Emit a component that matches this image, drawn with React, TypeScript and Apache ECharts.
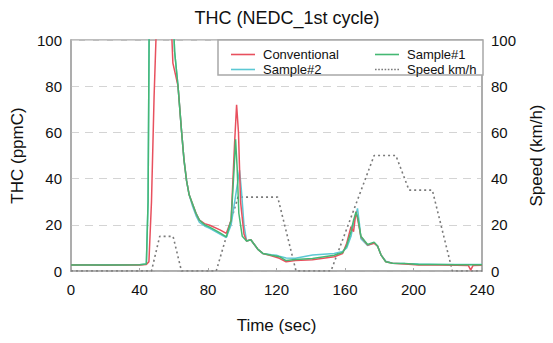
import React, { useEffect, useRef } from "react";
import * as echarts from "echarts";

const title = "THC (NEDC_1st cycle)";

const convT = [0, 10, 20, 30, 40, 44, 45.5, 47, 48.5, 49.6, 50, 57.3, 59.5, 61, 62.5, 64.5, 66, 67.5, 69, 71, 73, 75, 78, 81, 87, 90.7, 93.5, 95.5, 96.7, 97.8, 99, 101, 102.5, 105, 106.5, 109, 112, 117, 121.7, 125.6, 131, 141, 153.7, 158.6, 161, 163.5, 165, 166.4, 167.5, 169.3, 173.2, 177, 179, 181, 183.8, 187.7, 195, 203, 215, 225, 232, 233.4, 234.8, 240];
const convV = [2.6, 2.6, 2.5, 2.6, 2.6, 2.8, 4, 30, 75, 100, 130, 130, 90, 85, 80, 61, 48, 39, 33, 29, 25, 22, 20.5, 19.8, 17.8, 16.3, 22, 55, 72, 60, 30, 16, 13, 13.5, 12, 9.5, 7.6, 6.6, 5.5, 4, 4.5, 4.9, 6.2, 7.6, 12, 19.2, 17, 25.7, 22, 14.8, 11.2, 12, 10.8, 7, 4, 3.4, 3, 2.6, 2.6, 2.5, 2.4, 0.4, 2.4, 2.5];

const s1T = [0, 10, 20, 30, 40, 44, 45, 45.6, 46, 58.6, 60.5, 62.5, 64.5, 66, 67.5, 69, 71, 73, 75, 78, 81, 87, 90.7, 93.5, 95.3, 96.1, 97, 98, 100, 102.5, 105, 106.5, 109, 112, 117, 121.7, 125.6, 131, 141, 153.7, 158.6, 161, 163.5, 165, 166.4, 167.5, 169.3, 173.2, 177, 179, 181, 183.8, 187.7, 195, 203, 215, 225, 233, 240];
const s1V = [2.6, 2.6, 2.6, 2.6, 2.7, 3, 30, 100, 130, 130, 95, 80, 61, 48, 39, 33, 29, 25, 22, 20, 19, 16.5, 14.8, 22, 45, 57, 45, 25, 15, 13, 13.5, 12, 9.5, 7.6, 6.8, 6.2, 4.5, 5, 5.4, 6.8, 8, 11, 17, 22, 25.5, 23, 15, 11.5, 12.5, 10.8, 7, 4, 3.4, 3.2, 2.8, 2.8, 2.7, 2.7, 2.7];

const s2T = [0, 10, 20, 30, 40, 44, 45, 45.6, 46, 58.6, 60.5, 62.5, 64.5, 66, 67.5, 69, 71, 73, 75, 78, 81, 87, 90.7, 93.5, 96, 98.4, 99.5, 101, 102.5, 105, 106.5, 109, 112, 117, 120, 121.7, 125.6, 131, 141, 153.7, 158.6, 161, 163.5, 165.5, 167.3, 168.5, 169.3, 173.2, 177, 179, 181, 183.8, 187.7, 195, 203, 215, 225, 233, 240];
const s2V = [2.7, 2.7, 2.7, 2.7, 2.7, 3, 30, 100, 130, 130, 95, 80, 61, 48, 39, 33, 28, 24, 21, 19.5, 18.5, 16, 14.5, 20, 32, 43.7, 35, 20, 13, 13.5, 12, 9.5, 7.6, 7, 6.8, 6.4, 5.6, 5.5, 6.9, 7.6, 8.5, 10, 15, 22, 27.1, 20, 14, 11, 12.2, 10.8, 7, 4.2, 3.4, 3.2, 3, 2.8, 2.8, 2.8, 2.8];

const speedT = [0, 47, 51.8, 59.6, 64.5, 84.8, 97.5, 120.7, 131.4, 151.8, 177, 189.7, 197.4, 211, 222.7, 240];
const speedV = [0, 0, 15, 15, 0, 0, 32, 32, 0, 0, 50, 50, 35, 35, 0, 0];

const pairs = (t: number[], v: number[]) => t.map((x, i) => [x, v[i]]);

const FONT = "'Liberation Sans', Arial, sans-serif";
const SOLID_ICON = "path://M0,0H30V2H0Z";
const DOT_ICON =
  "path://M0,0H2V2H0Z M4,0H6V2H4Z M8,0H10V2H8Z M12,0H14V2H12Z M16,0H18V2H16Z M20,0H22V2H20Z M24,0H26V2H24Z M28,0H30V2H28Z";

export default function App() {
  const ref = useRef<HTMLDivElement>(null);
  useEffect(() => {
    if (!ref.current) return;
    const chart = echarts.init(ref.current, null, { renderer: "svg" });
    const lineBase = { type: "line", showSymbol: false, symbol: "none", clip: true, z: 3 };
    const legendBase = {
      orient: "vertical",
      top: 43,
      itemWidth: 30,
      itemHeight: 1.6,
      itemGap: 2,
      selectedMode: false,
      z: 5,
      textStyle: { fontSize: 13, lineHeight: 12, color: "#111", fontFamily: FONT, padding: [0, 0, 0, 0] },
    };
    chart.setOption({
      animation: false,
      textStyle: { fontFamily: FONT },
      title: {
        text: title,
        left: 282,
        top: 4,
        textAlign: "center",
        textStyle: { fontSize: 18, fontWeight: "normal", color: "#111", fontFamily: FONT },
      },
      grid: { left: 71, right: 70, top: 40, bottom: 72, show: true, borderColor: "#a8a8a8", borderWidth: 1.5 },
      legend: [
        {
          ...legendBase,
          left: 226,
          data: [
            { name: "Conventional", icon: SOLID_ICON },
            { name: "Sample#2", icon: SOLID_ICON },
          ],
        },
        {
          ...legendBase,
          left: 370,
          data: [
            { name: "Sample#1", icon: SOLID_ICON },
            { name: "Speed km/h", icon: DOT_ICON },
          ],
        },
      ],
      graphic: [
        {
          type: "rect",
          shape: { x: 218, y: 40, width: 265, height: 35 },
          style: { fill: "#fff", stroke: "#a8a8a8", lineWidth: 1.5 },
          z: 4,
        },
      ],
      xAxis: {
        type: "value",
        min: 0,
        max: 240,
        interval: 40,
        name: "Time (sec)",
        nameLocation: "middle",
        nameGap: 46,
        nameTextStyle: { fontSize: 17, color: "#111", fontFamily: FONT },
        axisLine: { lineStyle: { color: "#a8a8a8", width: 1.5 } },
        axisTick: { show: true, inside: true, length: 3, lineStyle: { color: "#a8a8a8" } },
        axisLabel: { fontSize: 15, color: "#111", margin: 11, fontFamily: FONT },
        splitLine: { show: false },
      },
      yAxis: [
        {
          type: "value",
          min: 0,
          max: 100,
          interval: 20,
          name: "THC (ppmC)",
          nameLocation: "middle",
          nameGap: 44,
          nameTextStyle: { fontSize: 17, color: "#111", fontFamily: FONT },
          axisLine: { show: true, lineStyle: { color: "#a8a8a8", width: 1.5 } },
          axisTick: { show: false },
          axisLabel: { fontSize: 15, color: "#111", margin: 9, fontFamily: FONT },
          splitLine: { show: true, lineStyle: { color: "#d4d4d4", type: [8, 6], width: 1.2 } },
        },
        {
          type: "value",
          min: 0,
          max: 100,
          interval: 20,
          name: "Speed (km/h)",
          nameLocation: "middle",
          nameGap: 46,
          nameRotate: 90,
          nameTextStyle: { fontSize: 17, color: "#111", fontFamily: FONT },
          axisLine: { show: true, lineStyle: { color: "#a8a8a8", width: 1.5 } },
          axisTick: { show: false },
          axisLabel: { fontSize: 15, color: "#111", margin: 9, fontFamily: FONT },
          splitLine: { show: false },
        },
      ],
      series: [
        {
          ...lineBase,
          name: "Speed km/h",
          yAxisIndex: 1,
          data: pairs(speedT, speedV),
          lineStyle: { color: "#7a7a7a", width: 1.6, type: [2, 3] },
          itemStyle: { color: "#7a7a7a" },
          z: 2,
        },
        {
          ...lineBase,
          name: "Sample#2",
          data: pairs(s2T, s2V),
          lineStyle: { color: "#5cc8d4", width: 1.5 },
          itemStyle: { color: "#5cc8d4" },
        },
        {
          ...lineBase,
          name: "Conventional",
          data: pairs(convT, convV),
          lineStyle: { color: "#e8505e", width: 1.5 },
          itemStyle: { color: "#e8505e" },
        },
        {
          ...lineBase,
          name: "Sample#1",
          data: pairs(s1T, s1V),
          lineStyle: { color: "#45b873", width: 1.5 },
          itemStyle: { color: "#45b873" },
        },
      ],
    });
    return () => chart.dispose();
  }, []);
  return <div ref={ref} style={{ width: 553, height: 343, position: "absolute", left: 0, top: 0 }} />;
}
